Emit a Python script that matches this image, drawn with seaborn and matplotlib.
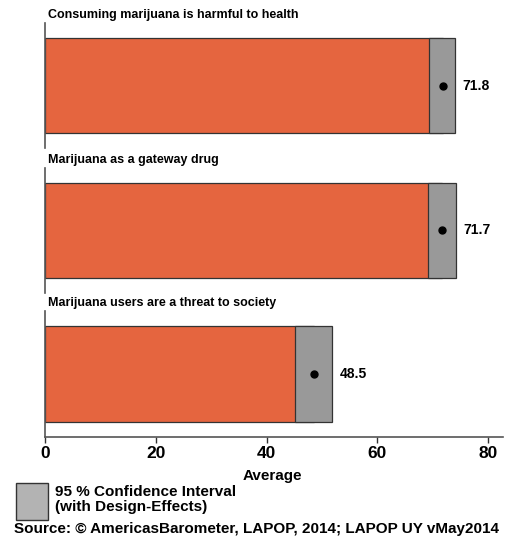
import matplotlib
matplotlib.use("Agg")
import matplotlib.pyplot as plt
from matplotlib.patches import Rectangle
import pandas as pd
import seaborn as sns

# values
statements = [
    "Consuming marijuana is harmful to health",
    "Marijuana as a gateway drug",
    "Marijuana users are a threat to society",
]
means = [71.8, 71.7, 48.5]
ci_low = [69.4, 69.1, 45.2]
ci_high = [74.0, 74.2, 51.8]
ticks = [0, 20, 40, 60, 80]

BAR_COLOR = "#E5653F"
CI_COLOR = "#999999"
EDGE = "#333333"

sns.set_style("white")
plt.rcParams["font.family"] = ["Liberation Sans", "DejaVu Sans"]
plt.rcParams["font.weight"] = "bold"
plt.rcParams["text.color"] = "black"
plt.rcParams["xtick.color"] = "black"

df = pd.DataFrame({"statement": statements, "mean": means,
                   "lo": ci_low, "hi": ci_high})

W, H = 505, 541
fig = plt.figure(figsize=(W / 100, H / 100), dpi=100)

# panel extents in pixels (top, bottom)
panels = [(23, 148), (168, 293), (311, 437)]
left_px, right_px = 45, 503
bar_h = 0.76

for i, (top, bottom) in enumerate(panels):
    ax = fig.add_axes([left_px / W, 1 - bottom / H,
                       (right_px - left_px) / W, (bottom - top) / H])
    row = df.iloc[[i]]
    sns.barplot(data=row, x="mean", y="statement", orient="h",
                color=BAR_COLOR, width=bar_h, edgecolor=EDGE, linewidth=0.9,
                saturation=1, errorbar=None, ax=ax)
    r = row.iloc[0]
    ax.barh(0, r["hi"] - r["lo"], left=r["lo"], height=bar_h,
            color=CI_COLOR, edgecolor=EDGE, linewidth=0.9, zorder=3)
    ax.plot(r["mean"], 0, "o", color="black", ms=5, zorder=4)
    ax.text(r["hi"] + 1.4, 0, f"{r['mean']:.1f}", va="center", ha="left",
            fontsize=10, fontweight="bold", color="black")

    ax.set_xlim(0, 82.7)
    ax.set_ylim(0.5, -0.5)
    ax.set_yticks([])
    ax.set_ylabel("")
    ax.set_xlabel("")
    for s in ["top", "right"]:
        ax.spines[s].set_visible(False)
    ax.spines["left"].set_color("#555555")
    ax.spines["left"].set_linewidth(1.2)

    fig.text(48 / W, 1 - (top - 8) / H, r["statement"], ha="left",
             va="center", fontsize=9, fontweight="bold", color="black")

    if i < 2:
        ax.spines["bottom"].set_visible(False)
        ax.set_xticks([])
    else:
        ax.spines["bottom"].set_color("#555555")
        ax.spines["bottom"].set_linewidth(1.2)
        ax.set_xticks(ticks)
        ax.tick_params(axis="x", bottom=True, length=4.5, width=1,
                       color="#333333", labelsize=12.5, pad=2,
                       labelcolor="black")
        for lab in ax.get_xticklabels():
            lab.set_fontweight("bold")

fig.text(272 / W, 1 - 476 / H, "Average", ha="center", va="center",
         fontsize=11, fontweight="bold", color="black")

# legend box for the confidence interval
fig.patches.append(Rectangle((16 / W, 1 - 520 / H), 32 / W, 37 / H,
                             transform=fig.transFigure, facecolor="#b3b3b3",
                             edgecolor=EDGE, linewidth=1))
fig.text(55 / W, 1 - 492 / H, "95 % Confidence Interval", ha="left",
         va="center", fontsize=11, fontweight="bold", color="black")
fig.text(55 / W, 1 - 507 / H, "(with Design-Effects)", ha="left",
         va="center", fontsize=11, fontweight="bold", color="black")
fig.text(257 / W, 1 - 529 / H,
         "Source: \u00a9 AmericasBarometer, LAPOP, 2014; LAPOP UY vMay2014",
         ha="center", va="center", fontsize=11, fontweight="bold",
         color="black")

fig.savefig("out.png", dpi=100, facecolor="white")
